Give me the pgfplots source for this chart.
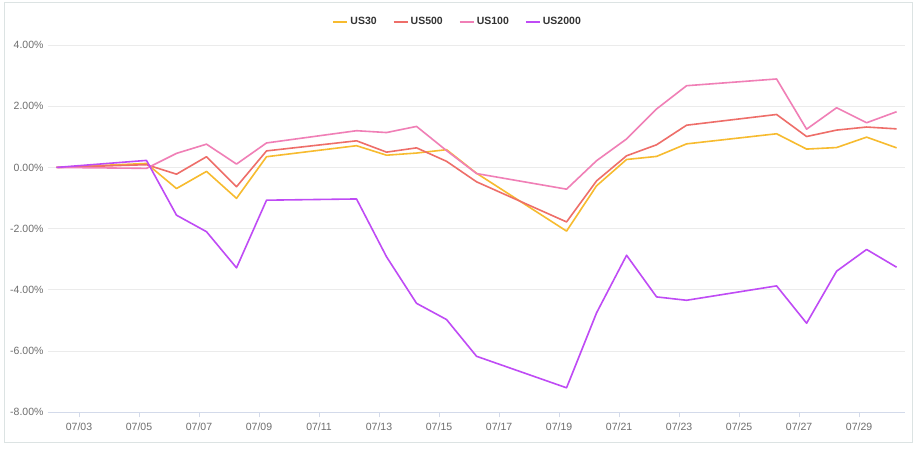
\documentclass[border=0pt]{standalone}
\usepackage{pgfplots}
\pgfplotsset{compat=1.18}
\usepackage{fontspec}
\setmainfont{Liberation Sans}

\definecolor{cUSthirty}{HTML}{F7BB2F}
\definecolor{cUSfivehundred}{HTML}{EE6E69}
\definecolor{cUShundred}{HTML}{F07FB6}
\definecolor{cUStwothousand}{HTML}{BF4BF5}
\definecolor{gridgray}{HTML}{EBEBEB}
\definecolor{axisblue}{HTML}{D3DAEA}
\definecolor{labelgray}{HTML}{6E6E6E}
\definecolor{framegray}{HTML}{DCE3E3}

\begin{document}
\begin{tikzpicture}
% canvas and outer frame (1px = 1pt, plot area starts at px 48 / 412)
\fill[white] (-48pt,-37.7pt) rectangle (870pt,412.3pt);
\draw[framegray, line width=1pt] (-43pt,-29.7pt) rectangle (864pt,409.3pt);

\begin{axis}[
    at={(0pt,0pt)}, anchor=south west,
    scale only axis,
    width=857pt, height=367.3pt,
    xmin=1.967, xmax=30.53,
    ymin=-8, ymax=4,
    axis y line*=left,
    axis x line*=bottom,
    y axis line style={draw=none},
    x axis line style={axisblue, line width=0.8pt},
    xtick={3,5,...,29},
    xticklabels={07/03,07/05,07/07,07/09,07/11,07/13,07/15,07/17,07/19,07/21,07/23,07/25,07/27,07/29},
    ytick={-8,-6,...,4},
    yticklabels={-8.00\%,-6.00\%,-4.00\%,-2.00\%,0.00\%,2.00\%,4.00\%},
    x tick style={axisblue, line width=0.8pt},
    major x tick style={axisblue},
    xtick align=outside,
    major tick length=5pt,
    y tick style={draw=none},
    ymajorgrids,
    major grid style={gridgray, line width=0.8pt},
    tick label style={font=\fontsize{10.5}{12}\selectfont, text=labelgray},
    xticklabel style={yshift=-2pt},
    yticklabel style={xshift=-1pt},
    clip=false,
    legend style={
        at={(0.478,1.063)}, anchor=center,
        draw=none, fill=none,
        legend columns=-1,
        font=\fontsize{10.5}{12}\selectfont\bfseries\color{black!80},
        /tikz/every even column/.append style={column sep=14pt},
    },
    legend image code/.code={\draw[line width=2pt] (0pt,0pt) -- (14pt,0pt);},
    every axis plot/.append style={line width=1.6pt, line join=round},
]
\addplot[cUSthirty] coordinates {
(2.25,0.00) (5.25,0.13) (6.25,-0.69) (7.25,-0.13) (8.25,-1.01) (9.25,0.35)
(12.25,0.71) (13.25,0.40) (14.25,0.47) (15.25,0.58) (16.25,-0.19)
(19.25,-2.08) (20.25,-0.60) (21.25,0.26) (22.25,0.36) (23.25,0.77)
(26.25,1.10) (27.25,0.60) (28.25,0.65) (29.25,0.99) (30.25,0.64)};
\addlegendentry{US30}

\addplot[cUSfivehundred] coordinates {
(2.25,0.00) (5.25,0.09) (6.25,-0.22) (7.25,0.35) (8.25,-0.63) (9.25,0.54)
(12.25,0.87) (13.25,0.50) (14.25,0.64) (15.25,0.20) (16.25,-0.47)
(19.25,-1.78) (20.25,-0.44) (21.25,0.38) (22.25,0.74) (23.25,1.38)
(26.25,1.73) (27.25,1.01) (28.25,1.22) (29.25,1.32) (30.25,1.26)};
\addlegendentry{US500}

\addplot[cUShundred] coordinates {
(2.25,0.00) (5.25,-0.03) (6.25,0.46) (7.25,0.76) (8.25,0.11) (9.25,0.80)
(12.25,1.20) (13.25,1.14) (14.25,1.34) (15.25,0.55) (16.25,-0.20)
(19.25,-0.71) (20.25,0.22) (21.25,0.93) (22.25,1.91) (23.25,2.67)
(26.25,2.89) (27.25,1.25) (28.25,1.95) (29.25,1.46) (30.25,1.82)};
\addlegendentry{US100}

\addplot[cUStwothousand] coordinates {
(2.25,0.00) (5.25,0.23) (6.25,-1.56) (7.25,-2.10) (8.25,-3.28) (9.25,-1.07)
(12.25,-1.03) (13.25,-2.92) (14.25,-4.44) (15.25,-4.97) (16.25,-6.17)
(19.25,-7.20) (20.25,-4.75) (21.25,-2.87) (22.25,-4.23) (23.25,-4.34)
(26.25,-3.87) (27.25,-5.09) (28.25,-3.39) (29.25,-2.68) (30.25,-3.26)};
\addlegendentry{US2000}
\end{axis}
\end{tikzpicture}
\end{document}
